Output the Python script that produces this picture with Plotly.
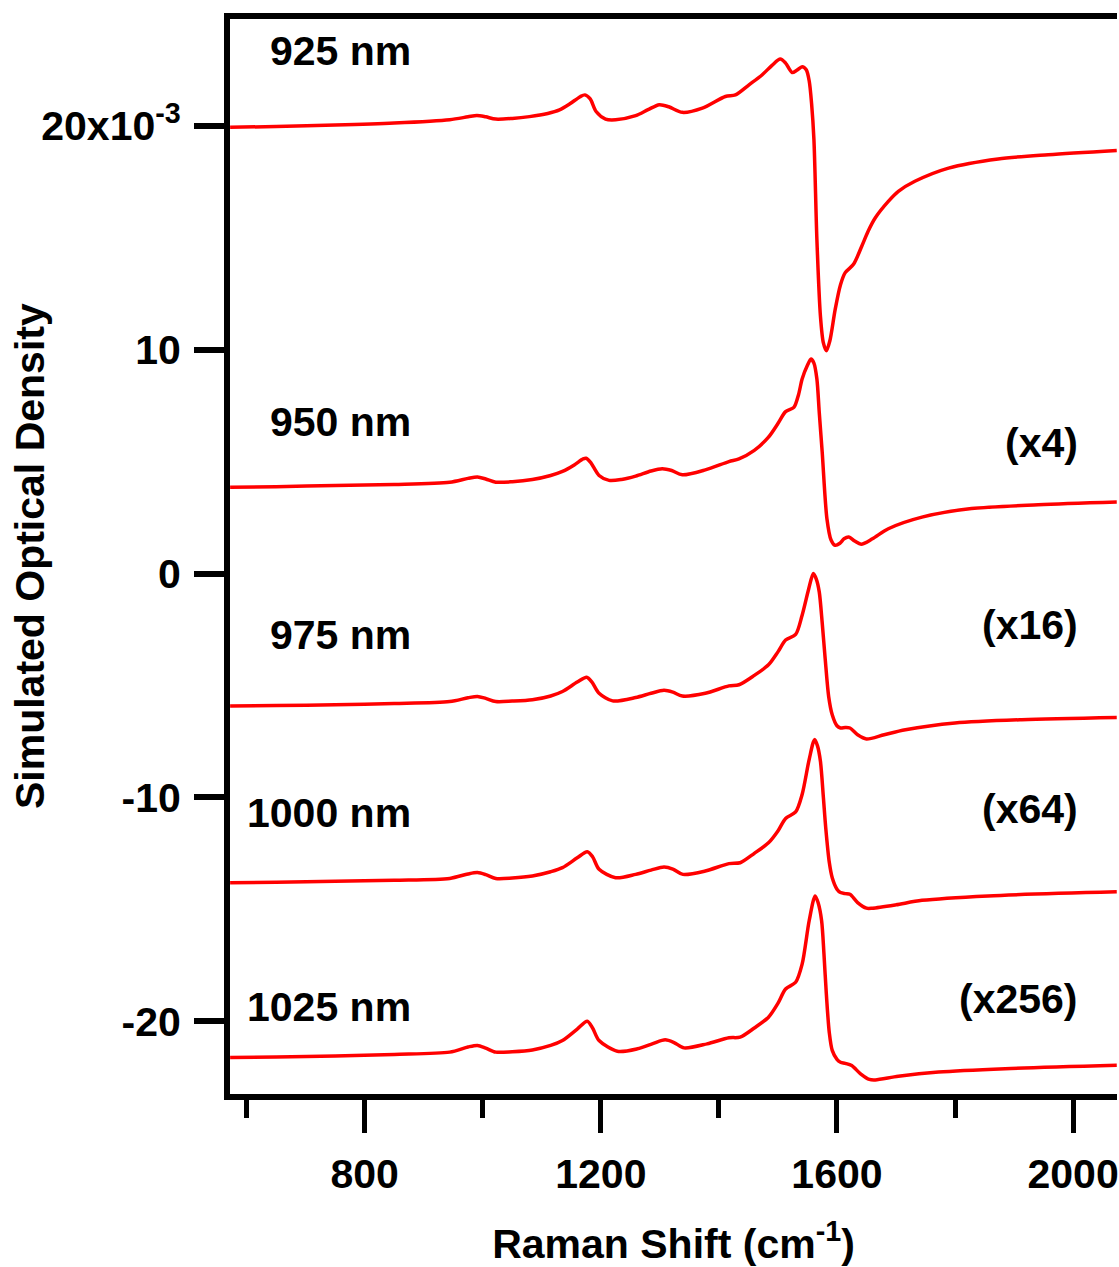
import plotly.graph_objects as go

# ---------------- data (Raman shift in cm^-1, simulated OD in units of 1e-3) ----------------
x_925 = [572, 650, 750, 850, 944, 975, 990, 1005, 1022, 1050, 1079, 1110, 1130, 1147, 1165, 1173,
         1182, 1192, 1208, 1225, 1259, 1280, 1299, 1315, 1338, 1372, 1411, 1428, 1451, 1473, 1490,
         1504, 1513, 1524, 1532, 1541, 1548, 1553, 1557, 1561, 1566, 1572, 1577, 1582, 1588, 1597,
         1606, 1614, 1628, 1642, 1653, 1665, 1687, 1704, 1732, 1789, 1873, 1958, 2074]
y_925 = [19.93, 19.97, 20.03, 20.12, 20.27, 20.40, 20.46, 20.40, 20.30, 20.33, 20.41, 20.55, 20.71,
         20.97, 21.30, 21.38, 21.20, 20.64, 20.30, 20.27, 20.45, 20.72, 20.94, 20.85, 20.60, 20.79,
         21.31, 21.38, 21.83, 22.27, 22.70, 22.98, 22.80, 22.38, 22.48, 22.64, 22.50, 22.00, 21.00,
         19.38, 14.92, 11.50, 10.30, 9.95, 10.40, 11.80, 12.90, 13.44, 13.81, 14.62, 15.30, 15.89,
         16.62, 17.07, 17.52, 18.11, 18.52, 18.71, 18.90]

x_950 = [572, 650, 750, 850, 944, 975, 991, 1005, 1022, 1050, 1084, 1115, 1135, 1155, 1170, 1175,
         1183, 1197, 1214, 1235, 1259, 1285, 1304, 1320, 1338, 1377, 1417, 1434, 1460, 1484, 1500,
         1513, 1527, 1535, 1541, 1550, 1556, 1561, 1566, 1570, 1575, 1583, 1590, 1597, 1605, 1612,
         1620, 1630, 1641, 1660, 1687, 1744, 1828, 1941, 2074]
y_950 = [3.85, 3.88, 3.93, 3.98, 4.08, 4.25, 4.31, 4.22, 4.08, 4.10, 4.20, 4.38, 4.56, 4.85, 5.12,
         5.15, 4.95, 4.38, 4.16, 4.20, 4.35, 4.58, 4.68, 4.60, 4.41, 4.63, 5.00, 5.12, 5.50, 6.09,
         6.70, 7.23, 7.42, 8.00, 8.69, 9.30, 9.58, 9.40, 8.69, 7.20, 5.42, 2.45, 1.50, 1.26, 1.35,
         1.55, 1.63, 1.45, 1.31, 1.55, 2.00, 2.52, 2.90, 3.07, 3.19]

x_975 = [572, 650, 750, 850, 944, 975, 991, 1005, 1022, 1050, 1084, 1115, 1135, 1160, 1176, 1185,
         1197, 1220, 1259, 1285, 1307, 1322, 1338, 1377, 1417, 1434, 1460, 1484, 1500, 1513, 1530,
         1541, 1552, 1560, 1565, 1570, 1575, 1580, 1586, 1592, 1600, 1606, 1614, 1622, 1635, 1650,
         1680, 1716, 1800, 1913, 2074]
y_975 = [-5.92, -5.90, -5.86, -5.81, -5.72, -5.55, -5.49, -5.58, -5.72, -5.70, -5.64, -5.47, -5.27,
         -4.85, -4.63, -4.85, -5.35, -5.69, -5.54, -5.35, -5.22, -5.30, -5.47, -5.35, -5.02, -4.97,
         -4.55, -4.08, -3.50, -2.97, -2.72, -1.86, -0.70, 0.00, -0.25, -0.82, -2.20, -3.79, -5.50,
         -6.31, -6.80, -6.90, -6.88, -6.90, -7.20, -7.39, -7.20, -6.98, -6.68, -6.53, -6.43]

x_1000 = [572, 650, 750, 850, 944, 975, 991, 1005, 1022, 1050, 1084, 1115, 1135, 1160, 1177, 1186,
          1197, 1225, 1259, 1285, 1307, 1322, 1339, 1377, 1417, 1436, 1460, 1484, 1500, 1513, 1530,
          1541, 1553, 1562, 1567, 1572, 1577, 1581, 1587, 1592, 1600, 1606, 1614, 1622, 1635, 1650,
          1660, 1700, 1744, 1856, 2074]
y_1000 = [-13.81, -13.79, -13.75, -13.70, -13.62, -13.42, -13.36, -13.45, -13.62, -13.60, -13.51,
          -13.32, -13.14, -12.70, -12.43, -12.65, -13.21, -13.59, -13.44, -13.25, -13.11, -13.20,
          -13.44, -13.29, -12.96, -12.92, -12.50, -12.03, -11.50, -10.94, -10.65, -9.87, -8.30,
          -7.42, -7.70, -8.39, -10.00, -11.36, -12.90, -13.59, -14.10, -14.25, -14.30, -14.33,
          -14.70, -14.95, -14.95, -14.80, -14.60, -14.40, -14.22]

x_1025 = [572, 650, 750, 850, 944, 975, 991, 1005, 1022, 1050, 1084, 1115, 1135, 1160, 1177, 1186,
          1197, 1228, 1262, 1288, 1309, 1324, 1341, 1380, 1417, 1436, 1460, 1484, 1500, 1513, 1530,
          1541, 1553, 1563, 1568, 1574, 1578, 1582, 1587, 1592, 1600, 1606, 1614, 1625, 1640, 1655,
          1665, 1704, 1772, 1885, 2074]
y_1025 = [-21.62, -21.60, -21.55, -21.48, -21.38, -21.15, -21.08, -21.20, -21.38, -21.36, -21.28,
          -21.08, -20.86, -20.35, -20.00, -20.30, -20.86, -21.34, -21.23, -21.00, -20.83, -20.95,
          -21.19, -21.01, -20.74, -20.71, -20.30, -19.82, -19.20, -18.56, -18.26, -17.45, -15.50,
          -14.40, -14.70, -15.51, -17.00, -18.78, -20.50, -21.30, -21.70, -21.83, -21.88, -21.98,
          -22.35, -22.60, -22.62, -22.46, -22.27, -22.12, -21.97]

wavelength_labels = ["925 nm", "950 nm", "975 nm", "1000 nm", "1025 nm"]
scale_labels = ["(x4)", "(x16)", "(x64)", "(x256)"]
y_tickvals = [-20, -10, 0, 10, 20]
y_ticktext = ["-20", "-10", "0", "10", "20x10<sup>-3</sup>"]
x_tickvals = [800, 1200, 1600, 2000]
x_minor_tickvals = [600, 1000, 1400, 1800]

# ---------------- figure ----------------
FONT = dict(family="Liberation Sans, Arial, Helvetica, sans-serif", size=41, color="black", weight="bold")
RED = "#ff0000"

fig = go.Figure()
for xs, ys in [(x_925, y_925), (x_950, y_950), (x_975, y_975), (x_1000, y_1000), (x_1025, y_1025)]:
    fig.add_trace(go.Scatter(x=xs, y=ys, mode="lines",
                             line=dict(color=RED, width=3.5, shape="spline", smoothing=0.8),
                             showlegend=False, hoverinfo="skip"))

# wavelength labels (right aligned)
wl_pos = [23.35, 6.75, -2.75, -10.7, -19.35]
for txt, yv in zip(wavelength_labels, wl_pos):
    fig.add_annotation(x=882, y=yv, xref="x", yref="y", text=txt, showarrow=False,
                       xanchor="right", yanchor="middle", font=FONT)

sc_pos = [5.85, -2.3, -10.5, -19.0]
for txt, yv in zip(scale_labels, sc_pos):
    fig.add_annotation(x=2011, y=yv, xref="x", yref="y", text=txt, showarrow=False,
                       xanchor="right", yanchor="middle", font=FONT)

# y-axis title as annotation
fig.add_annotation(x=-0.2260, y=0.5, xref="paper", yref="paper",
                   text="Simulated Optical Density", textangle=-90, showarrow=False,
                   xanchor="center", yanchor="middle", font=FONT)

fig.update_layout(
    width=1119, height=1267,
    margin=dict(l=230, r=0, t=19, b=170, pad=0),
    paper_bgcolor="white", plot_bgcolor="white",
    font=FONT,
    xaxis=dict(range=[571.8, 2074.4], showgrid=False, zeroline=False,
               showline=True, linecolor="black", linewidth=6, mirror=True,
               ticks="outside", ticklen=33, tickwidth=5, tickcolor="black",
               tickvals=x_tickvals, ticktext=[str(v) for v in x_tickvals],
               ticklabelstandoff=6, ticklabeloverflow="allow",
               minor=dict(tickvals=x_minor_tickvals, ticks="outside", ticklen=18,
                          tickwidth=5, tickcolor="black", showgrid=False),
               title=dict(text="Raman Shift (cm<sup>-1</sup>)", font=FONT, standoff=41)),
    yaxis=dict(range=[-23.25, 24.77], showgrid=False, zeroline=False,
               showline=True, linecolor="black", linewidth=6, mirror=False,
               ticks="outside", ticklen=30, tickwidth=6, tickcolor="black",
               tickvals=y_tickvals, ticktext=y_ticktext, ticklabelstandoff=5),
)

fig.write_html("out.html")
